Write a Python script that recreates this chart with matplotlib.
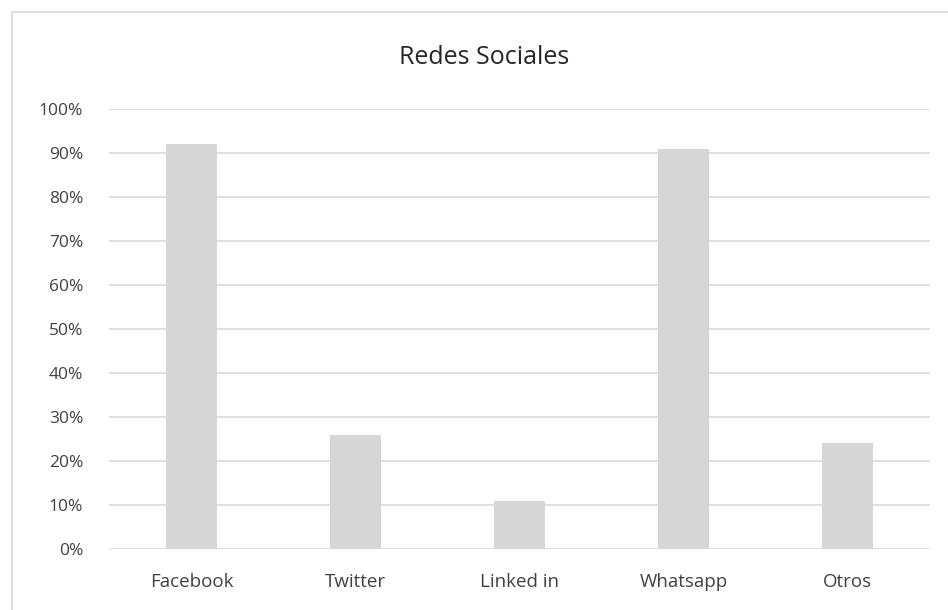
import numpy as np
import matplotlib.pyplot as plt
from matplotlib.patches import Rectangle
from matplotlib.ticker import FuncFormatter

# Datos
redes = ["Facebook", "Twitter", "Linked in", "Whatsapp", "Otros"]
porcentajes = [92, 26, 11, 91, 24]
titulo = "Redes Sociales"

plt.rcParams['font.family'] = ['Open Sans', 'DejaVu Sans']

fig = plt.figure(figsize=(9.48, 6.10), dpi=100)
ax = fig.add_axes([0.1155, 0.100, 0.865, 0.7213])

x = np.arange(len(redes))
ax.bar(x, porcentajes, width=0.31, color="#d6d6d6", zorder=3)

ax.set_xlim(-0.5, len(redes) - 0.5)
ax.set_ylim(0, 100)
ax.set_yticks(np.arange(0, 101, 10))
ax.yaxis.set_major_formatter(FuncFormatter(lambda v, p: "%d%%" % v))
ax.set_xticks(x)
ax.set_xticklabels(redes)

ax.grid(axis="y", color="#d9d9d9", linewidth=1.2, zorder=0)
for s in ax.spines.values():
    s.set_visible(False)
ax.tick_params(length=0, colors="#404040")
ax.tick_params(axis="y", labelsize=12.5, pad=19)
ax.tick_params(axis="x", labelsize=13.5, pad=17)

fig.text(0.511, 0.906, titulo, ha="center", va="center", fontsize=18, color="#262626")

# Borde del area del grafico
fig.patches.append(Rectangle((12 / 948, -0.01), 1.0, 1 - 12 / 610 + 0.01,
                             transform=fig.transFigure, fill=False,
                             edgecolor="#d9d9d9", linewidth=1.2))

fig.savefig("out.png", dpi=100)
